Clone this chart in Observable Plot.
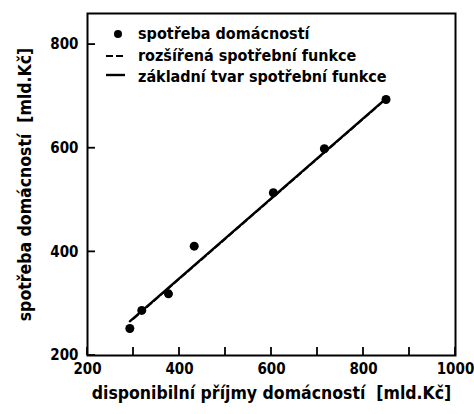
<!DOCTYPE html>
<html>
<head>
<meta charset="utf-8">
<script src="https://cdn.jsdelivr.net/npm/d3@7"></script>
<script src="https://cdn.jsdelivr.net/npm/@observablehq/plot@0.6"></script>
<style>
  html, body { margin: 0; padding: 0; background: #fff; }
  #chart svg { display: block; }
</style>
</head>
<body>
<div id="chart"></div>
<script>
// Data
const income = [292, 318, 376, 432, 604, 715, 849];        // disponibilní příjmy (mld. Kč)
const consumption = [252, 287, 319, 411, 514, 599, 694];   // spotřeba domácností (mld. Kč)
const basicX = [292, 845];   // základní tvar spotřební funkce
const basicY = [266, 693];
const extendedX = [300, 845]; // rozšířená spotřební funkce
const extendedY = [271, 692];
const xTicks = [200, 400, 600, 800, 1000];
const xMinorTicks = [300, 500, 700, 900];
const yTicks = [200, 400, 600, 800];
const legendLabels = ["spotřeba domácností", "rozšířená spotřební funkce", "základní tvar spotřební funkce"];
const xLabel = "disponibilní příjmy domácností  [mld.Kč]";
const yLabel = "spotřeba domácností  [mld.Kč]";

const points = income.map((x, i) => ({x, y: consumption[i]}));
const basic = basicX.map((x, i) => ({x, y: basicY[i]}));
const extended = extendedX.map((x, i) => ({x, y: extendedY[i]}));

const font = "'DejaVu Sans Condensed', 'DejaVu Sans', sans-serif";

const plot = Plot.plot({
  width: 474,
  height: 414,
  marginLeft: 87,
  marginRight: 19,
  marginTop: 13,
  marginBottom: 59,
  style: {fontFamily: font, fontSize: "15px", fontWeight: "bold", color: "#000", background: "#fff"},
  x: {domain: [200, 1000]},
  y: {domain: [200, 860]},
  marks: [
    Plot.frame({stroke: "#000", strokeWidth: 2}),
    Plot.axisX({ticks: xTicks, tickSize: 0, tickPadding: 8, tickFormat: d => String(d), label: null, fontSize: 15}),
    Plot.axisY({ticks: yTicks, tickSize: 0, tickPadding: 9, tickFormat: d => String(d), label: null, fontSize: 15}),
    Plot.line(extended, {x: "x", y: "y", stroke: "#000", strokeWidth: 2, strokeDasharray: "6,3"}),
    Plot.line(basic, {x: "x", y: "y", stroke: "#000", strokeWidth: 2.4}),
    Plot.dot(points, {x: "x", y: "y", r: 4.5, fill: "#000", stroke: "none"}),
    Plot.text([xLabel], {frameAnchor: "bottom", dy: 43, textAnchor: "middle", fontSize: 17.5, text: d => d}),
    Plot.text([yLabel], {frameAnchor: "left", dx: -62, rotate: -90, textAnchor: "middle", fontSize: 17.5, text: d => d})
  ]
});

document.getElementById("chart").appendChild(plot);

const svg = d3.select(plot);
const sx = plot.scale("x"), sy = plot.scale("y");
const yMin = sy.domain[0], xMin = sx.domain[0];

// inward ticks drawn through the plot's own scales
const tg = svg.append("g").attr("stroke", "#000").attr("stroke-width", 1.8);
for (const t of [...xTicks, ...xMinorTicks]) {
  const px = sx.apply(t), py = sy.apply(yMin);
  tg.append("line").attr("x1", px).attr("x2", px).attr("y1", py).attr("y2", py - 8);
}
for (const t of yTicks) {
  const px = sx.apply(xMin), py = sy.apply(t);
  tg.append("line").attr("x1", px).attr("x2", px + 8).attr("y1", py).attr("y2", py);
}

// Legend (inside the frame, top-left)
const rowsY = [34, 56, 77];
const lg = svg.append("g");
lg.append("circle").attr("cx", 118).attr("cy", rowsY[0]).attr("r", 4).attr("fill", "#000");
lg.append("line").attr("x1", 106).attr("x2", 125).attr("y1", rowsY[1]).attr("y2", rowsY[1])
  .attr("stroke", "#000").attr("stroke-width", 2).attr("stroke-dasharray", "7,3");
lg.append("line").attr("x1", 106).attr("x2", 125).attr("y1", rowsY[2] - 2).attr("y2", rowsY[2] - 2)
  .attr("stroke", "#000").attr("stroke-width", 2.4);
legendLabels.forEach((t, i) => {
  lg.append("text").attr("x", 138).attr("y", rowsY[i]).attr("dy", "0.32em")
    .attr("text-anchor", "start")
    .attr("font-family", font).attr("font-size", 16).attr("font-weight", "bold")
    .attr("fill", "#000").text(t);
});
</script>
</body>
</html>
